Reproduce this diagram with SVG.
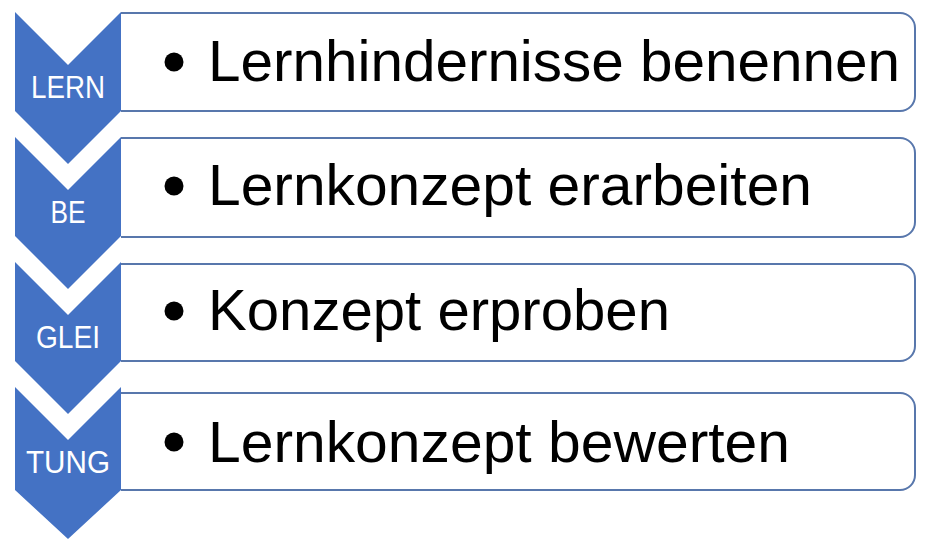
<svg xmlns="http://www.w3.org/2000/svg" width="943" height="541" viewBox="0 0 943 541">
<style>
.box{fill:#ffffff;stroke:#5877ac;stroke-width:2}
.chev{fill:#4472c4}
.lbl{font-family:"Liberation Sans",Arial,sans-serif;font-size:32px;fill:#ffffff;text-anchor:middle}
.txt{font-family:"Liberation Sans",Arial,sans-serif;font-size:58px;fill:#000000}
.dot{fill:#000000}
</style>
<rect width="943" height="541" fill="#ffffff"/>
<g id="connectors"></g>
<g id="row1">
<path class="box" d="M121,13 H900 A15,15 0 0 1 915,28 V96 A15,15 0 0 1 900,111 H121"/>
<polygon class="chev" points="15,12 68,65 121,12 121,111 68,164 15,111"/>
<text class="lbl" x="68" y="98" textLength="74" lengthAdjust="spacingAndGlyphs">LERN</text>
<circle class="dot" cx="174" cy="62" r="9.5"/>
<text class="txt" x="208" y="81" textLength="692" lengthAdjust="spacingAndGlyphs">Lernhindernisse benennen</text>
</g>
<g id="row2">
<path class="box" d="M121,138 H900 A15,15 0 0 1 915,153 V222 A15,15 0 0 1 900,237 H121"/>
<polygon class="chev" points="15,137 68,190 121,137 121,236 68,289 15,236"/>
<text class="lbl" x="68" y="223" textLength="35" lengthAdjust="spacingAndGlyphs">BE</text>
<circle class="dot" cx="174" cy="186" r="9.5"/>
<text class="txt" x="208" y="205" textLength="604" lengthAdjust="spacingAndGlyphs">Lernkonzept erarbeiten</text>
</g>
<g id="row3">
<path class="box" d="M121,264 H900 A15,15 0 0 1 915,279 V346 A15,15 0 0 1 900,361 H121"/>
<polygon class="chev" points="15,262 68,315 121,262 121,361 68,414 15,361"/>
<text class="lbl" x="68" y="348" textLength="64" lengthAdjust="spacingAndGlyphs">GLEI</text>
<circle class="dot" cx="174" cy="311" r="9.5"/>
<text class="txt" x="208" y="330" textLength="462" lengthAdjust="spacingAndGlyphs">Konzept erproben</text>
</g>
<g id="row4">
<path class="box" d="M121,393 H900 A15,15 0 0 1 915,408 V475 A15,15 0 0 1 900,490 H121"/>
<polygon class="chev" points="15,387 68,440 121,387 121,490 68,539 15,490"/>
<text class="lbl" x="68" y="473" textLength="84" lengthAdjust="spacingAndGlyphs">TUNG</text>
<circle class="dot" cx="174" cy="442" r="9.5"/>
<text class="txt" x="208" y="462" textLength="582" lengthAdjust="spacingAndGlyphs">Lernkonzept bewerten</text>
</g>
</svg>
